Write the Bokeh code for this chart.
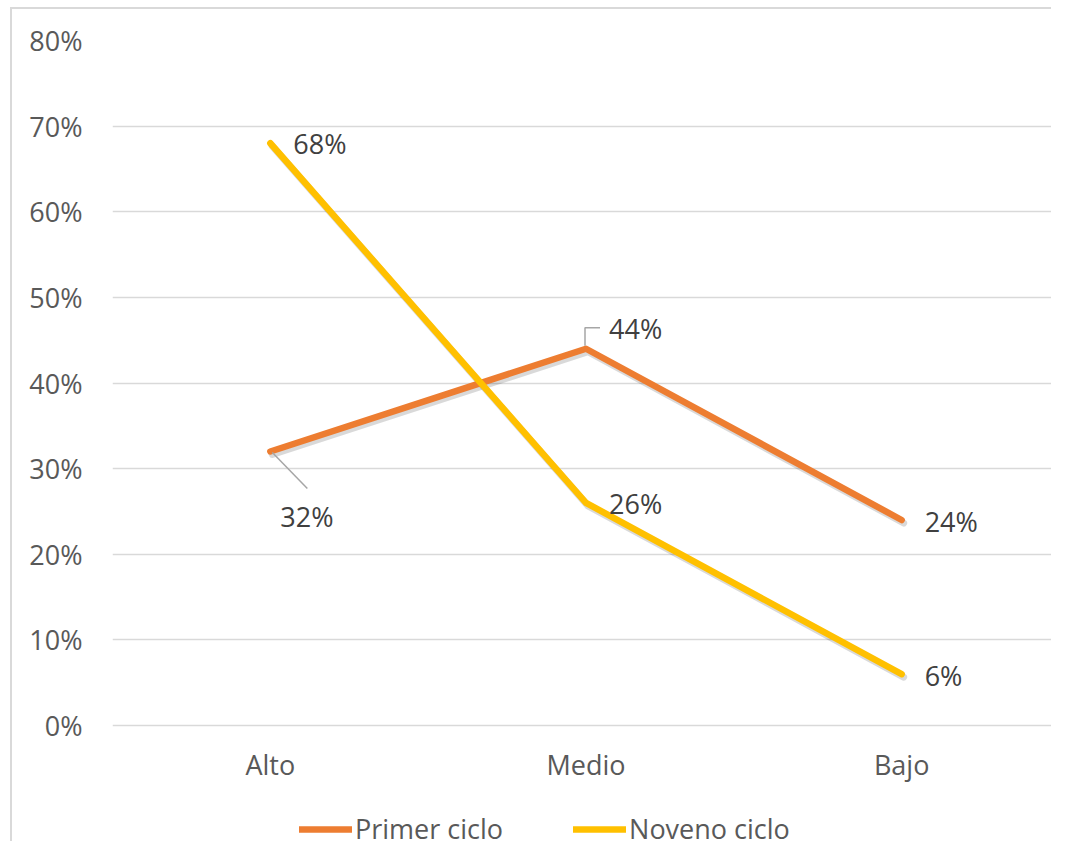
from bokeh.plotting import figure
from bokeh.models import Range1d, FixedTicker, NumeralTickFormatter, Legend, LegendItem
from bokeh.embed import file_html
from bokeh.resources import INLINE
from bokeh.core.properties import value

# ---- data ----
categories = ["Alto", "Medio", "Bajo"]
primer_ciclo = [0.32, 0.44, 0.24]
noveno_ciclo = [0.68, 0.26, 0.06]
y_ticks = [0.0, 0.1, 0.2, 0.3, 0.4, 0.5, 0.6, 0.7, 0.8]
series_names = ["Primer ciclo", "Noveno ciclo"]

# ---- layout ----
PAD_L, PAD_T = 12, 9        # css padding holding the chart-area border
W, H = 1051, 841            # canvas size
ML, MR, MT, MB = 100, 4, 31, 0
FW = W - ML - MR
FH = H - MT - MB
PLOT_H = 685                # pixel height of the 0%..80% span
XMAX = float(len(categories))
YMAX = 0.8
PX = XMAX / FW              # data units per pixel, x
PY = YMAX / PLOT_H          # data units per pixel, y
YMIN = YMAX - FH * PY       # extra room below 0% for axis labels and legend

FONT = "Open Sans"
ORANGE = "#ED7D31"
YELLOW = "#FFC000"

x = [i + 0.5 for i in range(len(categories))]

p = figure(width=W, height=H, x_range=Range1d(0, XMAX), y_range=Range1d(YMIN, YMAX),
           output_backend="svg", toolbar_location=None,
           min_border_left=ML, min_border_right=MR, min_border_top=MT, min_border_bottom=MB)
p.styles = {
    "padding-left": f"{PAD_L}px",
    "padding-top": f"{PAD_T}px",
    "background-color": "#ffffff",
    "box-shadow": f"inset {PAD_L - 2}px {PAD_T - 2}px 0 0 #ffffff, inset {PAD_L}px {PAD_T}px 0 0 #d9d9d9",
}
p.outline_line_color = None
p.background_fill_color = "white"
p.border_fill_color = "white"

# axes
p.xaxis.ticker = FixedTicker(ticks=x)
p.xaxis.major_label_overrides = {xi: c for xi, c in zip(x, categories)}
p.xaxis.fixed_location = 0
p.yaxis.ticker = FixedTicker(ticks=y_ticks)
p.yaxis.formatter = NumeralTickFormatter(format="0%")
for ax in (p.xaxis, p.yaxis):
    ax.axis_line_color = None
    ax.major_tick_line_color = None
    ax.minor_tick_line_color = None
    ax.major_tick_out = 0
    ax.major_tick_in = 0
    ax.minor_tick_out = 0
    ax.major_label_text_font = FONT
    ax.major_label_text_font_size = "27px"
    ax.major_label_text_color = "#595959"
p.xaxis.major_label_standoff = 20
p.yaxis.major_label_standoff = 30

p.xgrid.visible = False
p.ygrid.ticker = FixedTicker(ticks=y_ticks)
p.ygrid.grid_line_color = "#d9d9d9"
p.ygrid.grid_line_width = 1.5

# shadows
for vals in (primer_ciclo, noveno_ciclo):
    p.line([xi + 2 * PX for xi in x], [v - 3 * PY for v in vals],
           line_color="black", line_alpha=0.15, line_width=7, line_cap="round", line_join="round")

r1 = p.line(x, primer_ciclo, line_color=ORANGE, line_width=6.5, line_cap="round", line_join="round")
r2 = p.line(x, noveno_ciclo, line_color=YELLOW, line_width=6.5, line_cap="round", line_join="round")

# data labels (offsets in pixels)
lab_dx_primer = [10, 23, 23]
lab_dy_primer = [65, -20, 1]
lab_dx_noveno = [23, 23, 23]
lab_dy_noveno = [0, 1, 1]

lx, ly, lt = [], [], []
for vals, dxs, dys in ((primer_ciclo, lab_dx_primer, lab_dy_primer),
                       (noveno_ciclo, lab_dx_noveno, lab_dy_noveno)):
    for xi, v, dx, dy in zip(x, vals, dxs, dys):
        lx.append(xi + dx * PX)
        ly.append(v - dy * PY)
        lt.append(f"{round(v * 100)}%")
p.text(x=lx, y=ly, text=lt, text_font=value(FONT), text_font_size="27px",
       text_color="#404040", text_align="left", text_baseline="middle")

# leader lines for 32% and 44%
lead_xs = [
    [x[0] + 2 * PX, x[0] + 37 * PX],
    [x[1] - 1 * PX, x[1] - 1 * PX, x[1] + 14 * PX],
]
lead_ys = [
    [primer_ciclo[0] - 1 * PY, primer_ciclo[0] - 37 * PY],
    [primer_ciclo[1] + 3 * PY, primer_ciclo[1] + 21 * PY, primer_ciclo[1] + 21 * PY],
]
p.multi_line(xs=lead_xs, ys=lead_ys, line_color="#a6a6a6", line_width=1.5)

legend = Legend(items=[LegendItem(label=series_names[0], renderers=[r1]),
                       LegendItem(label=series_names[1], renderers=[r2])],
                orientation="horizontal", location=(187, 3),
                padding=0, margin=0, spacing=70, label_standoff=3,
                glyph_width=53, glyph_height=30, label_height=30,
                label_text_font=FONT, label_text_font_size="27px",
                label_text_color="#595959", border_line_color=None,
                background_fill_alpha=0)
p.add_layout(legend, "center")

open("out.html", "w").write(file_html(p, INLINE))
